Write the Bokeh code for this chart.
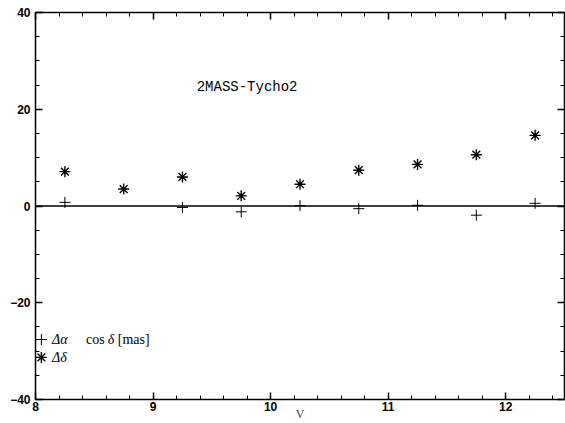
from bokeh.plotting import figure
from bokeh.models import LinearAxis, Span, Range1d, Label, FixedTicker
from bokeh.embed import file_html
from bokeh.resources import INLINE

# data
v_plus = [8.25, 9.25, 9.75, 10.25, 10.75, 11.25, 11.75, 12.25]
d_alpha = [0.75, -0.3, -1.2, 0.1, -0.55, 0.15, -1.9, 0.55]
v_star = [8.25, 8.75, 9.25, 9.75, 10.25, 10.75, 11.25, 11.75, 12.25]
d_delta = [7.1, 3.5, 6.0, 2.1, 4.5, 7.4, 8.6, 10.6, 14.6]
x_ticks = [8, 9, 10, 11, 12]
y_ticks = [-40, -20, 0, 20, 40]

p = figure(width=565, height=423, output_backend="svg", toolbar_location=None,
           x_range=Range1d(8, 12.5), y_range=Range1d(-40, 40),
           x_axis_location=None, y_axis_location=None,
           min_border_left=35, min_border_right=1, min_border_top=12, min_border_bottom=0)
p.grid.visible = False
p.outline_line_color = None
p.background_fill_color = "white"

def style(ax, labels=True, xaxis=True):
    ax.ticker = FixedTicker(ticks=x_ticks if xaxis else y_ticks,
                            minor_ticks=[8 + 0.2 * i for i in range(23)] if xaxis else list(range(-40, 41, 5)))
    ax.major_tick_in = 7
    ax.major_tick_out = 0
    ax.minor_tick_in = 4
    ax.minor_tick_out = 0
    ax.axis_line_color = "black"
    ax.axis_line_width = 1.5
    ax.major_tick_line_color = "black"
    ax.major_tick_line_width = 1.5
    ax.minor_tick_line_color = "black"
    ax.minor_tick_line_width = 1
    ax.major_label_text_font = "Liberation Sans"
    ax.major_label_text_font_style = "bold"
    ax.major_label_text_font_size = "12px"
    ax.major_label_text_color = "black"
    if labels:
        ax.major_label_standoff = 5 if not xaxis else 2
    else:
        ax.major_label_overrides = {t: "" for t in (x_ticks if xaxis else y_ticks)}
        ax.major_label_standoff = 0

bx = LinearAxis(axis_label="V"); style(bx, True, True)
bx.axis_label_text_font = "Liberation Serif"
bx.axis_label_text_font_style = "normal"
bx.axis_label_text_font_size = "12px"
bx.axis_label_standoff = -7
p.add_layout(bx, "below")
tx = LinearAxis(); style(tx, False, True); p.add_layout(tx, "above")
ly = LinearAxis(); style(ly, True, False); p.add_layout(ly, "left")
ry = LinearAxis(); style(ry, False, False); p.add_layout(ry, "right")

p.add_layout(Span(location=0, dimension="width", line_color="black", line_width=1.3))

p.scatter(v_plus, d_alpha, marker="cross", size=11, line_color="black", line_width=1)
p.scatter(v_star, d_delta, marker="asterisk", size=11, line_color="black", line_width=1.4)

p.add_layout(Label(x=9.8, y=24.5, text="2MASS-Tycho2", text_font="Liberation Mono",
                   text_font_size="14px", text_align="center", text_baseline="middle", text_color="black"))

# legend
p.scatter([8.05], [-27.6], marker="cross", size=11, line_color="black", line_width=1)
p.scatter([8.05], [-31.3], marker="asterisk", size=11, line_color="black", line_width=1.4)
p.add_layout(Label(x=8.14, y=-27.6, text="Δα", text_font="Liberation Serif", text_font_style="italic",
                   text_font_size="14px", text_baseline="middle", text_color="black"))
p.add_layout(Label(x=8.43, y=-27.6, text="cos", text_font="Liberation Serif",
                   text_font_size="14px", text_baseline="middle", text_color="black"))
p.add_layout(Label(x=8.615, y=-27.6, text="δ", text_font="Liberation Serif", text_font_style="italic",
                   text_font_size="14px", text_baseline="middle", text_color="black"))
p.add_layout(Label(x=8.7, y=-27.6, text="[mas]", text_font="Liberation Serif",
                   text_font_size="14px", text_baseline="middle", text_color="black"))
p.add_layout(Label(x=8.14, y=-31.3, text="Δδ", text_font="Liberation Serif", text_font_style="italic",
                   text_font_size="14px", text_baseline="middle", text_color="black"))

open("out.html", "w").write(file_html(p, INLINE))
